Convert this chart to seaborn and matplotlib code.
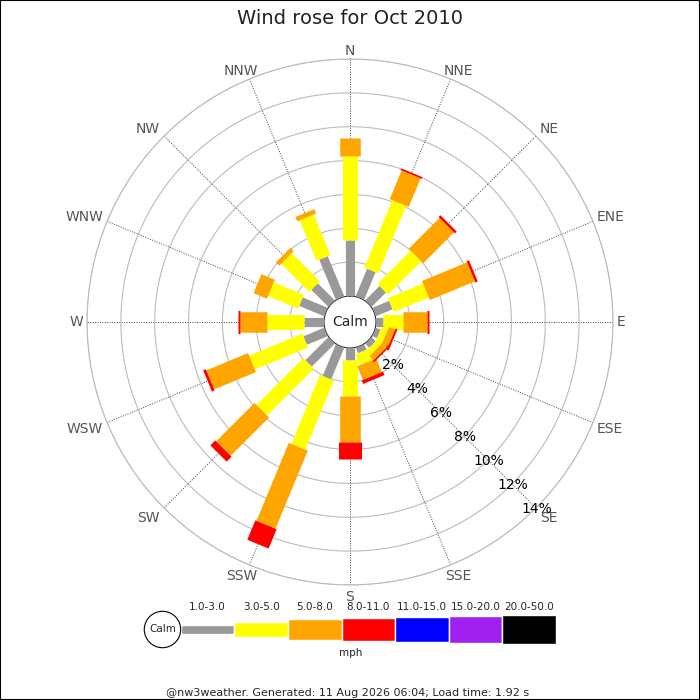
import numpy as np
import matplotlib
matplotlib.use('Agg')
from matplotlib import pyplot as plt
from matplotlib.patches import Ellipse, Rectangle
import seaborn as sb

# wind frequency (%) per direction and speed class
directions = ['N', 'NNE', 'NE', 'ENE', 'E', 'ESE', 'SE', 'SSE',
              'S', 'SSW', 'SW', 'WSW', 'W', 'WNW', 'NW', 'NNW']
speed_1_3 = [3.30, 1.76, 1.20, 1.07, 0.41, 0.30, 0.35, 0.35,
             0.70, 2.03, 1.93, 1.33, 1.18, 1.60, 1.43, 2.56]
speed_3_5 = [4.97, 4.31, 2.78, 2.25, 1.17, 0.40, 0.35, 0.70,
             2.14, 4.41, 3.90, 3.40, 2.21, 1.92, 2.34, 2.59]
speed_5_8 = [1.07, 1.83, 2.57, 2.88, 1.45, 0.40, 0.35, 0.87,
             2.72, 4.99, 3.21, 2.67, 1.57, 0.86, 0.28, 0.28]
speed_8_11 = [0.00, 0.10, 0.15, 0.15, 0.12, 0.12, 0.10, 0.22,
              1.02, 1.24, 0.41, 0.17, 0.10, 0.00, 0.00, 0.00]

speed_labels = ['1.0-3.0', '3.0-5.0', '5.0-8.0', '8.0-11.0', '11.0-15.0', '15.0-20.0', '20.0-50.0']
speed_colors = ['#999999', '#ffff00', '#ffa500', '#ff0000', '#0000ff', '#a020f0', '#000000']
r_ticks = [2, 4, 6, 8, 10, 12, 14]

# where each compass label sits relative to the end of its spoke (pixels, y down)
label_place = [(0, -4, 'center', 'baseline'), (8, -4, 'center', 'baseline'), (4, -3, 'left', 'baseline'),
               (4, 0, 'left', 'baseline'), (4, 0, 'left', 'center'), (4, -1, 'left', 'top'),
               (4, 3, 'left', 'top'), (8, 4, 'center', 'top'), (0, 5, 'center', 'top'),
               (-8, 4, 'center', 'top'), (-4, 3, 'right', 'top'), (-4, -1, 'right', 'top'),
               (-4, 0, 'right', 'center'), (-4, 0, 'right', 'baseline'), (-4, -3, 'right', 'baseline'),
               (-8, -4, 'center', 'baseline')]

sb.set_style('white')
plt.rcParams['font.family'] = ['DejaVu Sans']

fig = plt.figure(figsize=(7, 7), dpi=100)
fig.add_artist(Rectangle((0, 0), 1, 1, transform=fig.transFigure, fill=False, ec='black', lw=1.5))

ax = fig.add_axes([0.1243, 0.1643, 0.7514, 0.7514], projection='polar')
ax.set_theta_zero_location('N')
ax.set_theta_direction(-1)
ax.set_ylim(0, 14)
ax.set_rorigin(-1.536)

thetas = np.radians(np.arange(16) * 22.5)
ax.set_xticks(thetas)
ax.set_xticklabels([])
ax.set_yticks(r_ticks)
ax.set_yticklabels([])
ax.xaxis.grid(True, linestyle=(0, (1, 1.5)), color='#444444', lw=0.7)
ax.yaxis.grid(True, linestyle='-', color='#bbbbbb', lw=0.8)
ax.spines['polar'].set_color('#bbbbbb')
ax.spines['polar'].set_linewidth(0.8)
ax.spines['inner'].set_visible(False)

for th, name, (dx, dy, ha, va) in zip(thetas, directions, label_place):
    ax.annotate(name, xy=(th, 14), xytext=(dx * 0.72, -dy * 0.72), textcoords='offset points',
                ha=ha, va=va, fontsize=10, color='#555555', annotation_clip=False)

# bar widths in points for each speed class
widths = [6.6, 10.8, 14.8, 16.6]
series = [speed_1_3, speed_3_5, speed_5_8, speed_8_11]
for i, th in enumerate(thetas):
    base = 0
    for k, vals in enumerate(series):
        v = vals[i]
        if v > 0:
            ax.plot([th, th], [base, base + v], color=speed_colors[k], lw=widths[k],
                    solid_capstyle='butt', zorder=3 + k)
        base += v

for r in r_ticks:
    ax.text(np.radians(135), r + 0.05, '{}%'.format(r), ha='center', va='center', fontsize=10,
            color='black', zorder=10)
ax.text(0, -1.536, 'Calm', ha='center', va='center', fontsize=10, zorder=10)

fig.suptitle('Wind rose for Oct 2010', y=1 - 18 / 700, va='center', fontsize=14, color='#222222')

# speed legend
lax = fig.add_axes([180.7 / 700, (700 - 629.5 - 20) / 700, (556 - 180.7) / 700, 40 / 700])
lax.set_xlim(0, 7)
lax.set_ylim(-20, 20)
lax.axis('off')
heights = np.array([8.3, 15, 20.3, 23, 25, 27, 28.5])
lax.bar(np.arange(7) + 0.5, heights, bottom=-heights / 2, width=1, color=speed_colors)
for i, lab in enumerate(speed_labels):
    lax.text(i + 0.5, 22.2, lab, ha='center', va='center', fontsize=7.5)
lax.text(3.17, -23.8, 'mph', ha='center', va='center', fontsize=7.5)
lax.add_patch(Ellipse((-0.34, 0), 36.4 / 53.61, 36.4, fc='white', ec='black', lw=0.8, clip_on=False))
lax.text(-0.34, 0, 'Calm', ha='center', va='center', fontsize=7.5)

fig.text(348 / 700, 1 - 692.5 / 700, '@nw3weather. Generated: 11 Aug 2026 06:04; Load time: 1.92 s',
         ha='center', va='center', fontsize=8)

plt.savefig('out.png', dpi=100)
